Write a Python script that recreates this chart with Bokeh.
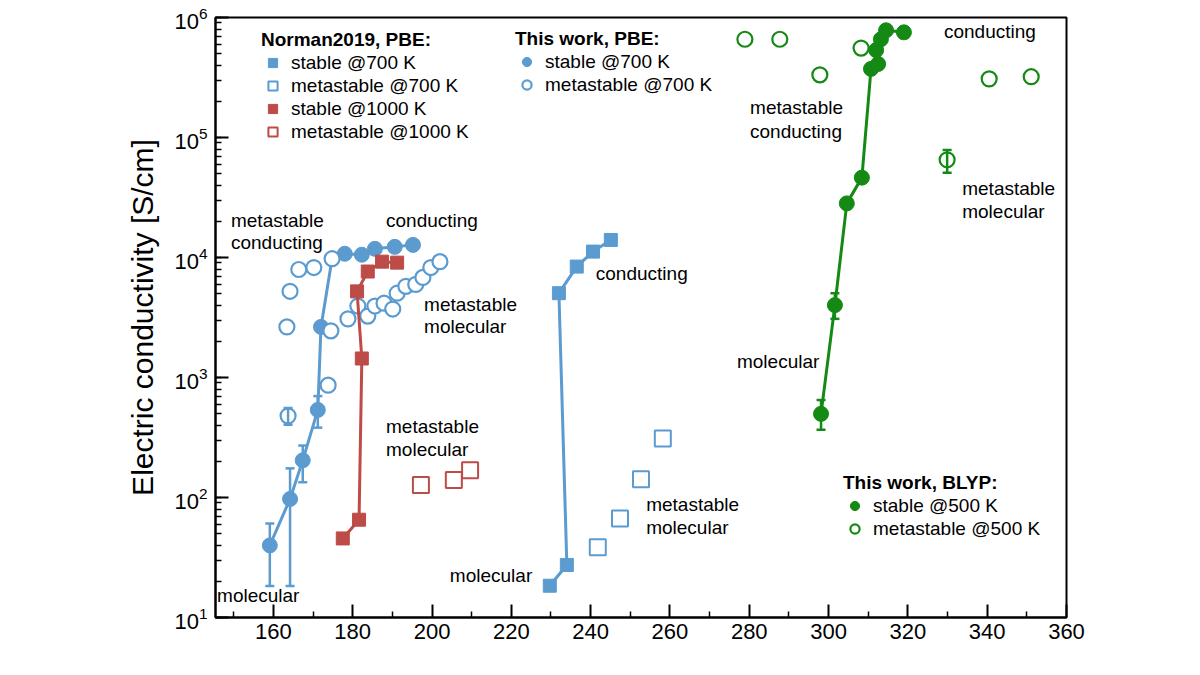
from bokeh.plotting import figure
from bokeh.models import (Range1d, FixedTicker, ColumnDataSource, Whisker, TeeHead,
                          Legend, LegendItem, Label, LogTicker)
from bokeh.core.properties import value
from bokeh.embed import file_html
from bokeh.resources import INLINE

# ---------------- data ----------------
# Norman2019, PBE
norman_s700_p = [229.7, 234.0, 232.0, 236.5, 240.6, 245.1]
norman_s700_s = [18.4, 27.4, 5040, 8400, 11200, 14000]
norman_m700_p = [241.8, 247.4, 252.7, 258.2]
norman_m700_s = [38.5, 66.7, 142, 310]
norman_s1000_p = [177.5, 181.6, 182.3, 181.1, 183.8, 187.4, 191.2]
norman_s1000_s = [45.6, 65.3, 1440, 5220, 7640, 9230, 9060]
norman_m1000_p = [197.2, 205.5, 209.6]
norman_m1000_s = [127, 140, 169]

# This work, PBE @700 K
pbe_s_p = [159.1, 164.2, 167.4, 171.2, 172.0, 174.8, 178.0, 182.3, 185.6, 190.6, 195.2]
pbe_s_s = [39.9, 97.2, 204, 537, 2640, 9800, 10740, 10550, 11810, 12270, 12740]
pbe_s_err_p = [159.1, 164.2, 167.4, 171.2]
pbe_s_err_lo = [18.3, 18.3, 134, 382]
pbe_s_err_hi = [60.7, 175, 271, 700]

pbe_m_p = [163.7, 173.8, 163.4, 164.2, 166.4, 170.2, 174.8, 174.5, 178.8, 181.3, 183.8,
           185.6, 187.9, 190.1, 191.2, 193.4, 195.9, 197.7, 199.7, 202.0]
pbe_m_s = [479, 863, 2640, 5230, 7940, 8250, 9770, 2450, 3080, 3940, 3250,
           3940, 4160, 3720, 5040, 5750, 5970, 6820, 8250, 9230]
pbe_m_err_p = [163.7]
pbe_m_err_lo = [404]
pbe_m_err_hi = [557]

# This work, BLYP @500 K
blyp_s_p = [298.1, 301.6, 304.6, 308.4, 310.7, 312.5, 312.0, 313.2, 314.5, 319.0]
blyp_s_s = [498, 4010, 28250, 46300, 373000, 410000, 535000, 659000, 782000, 752000]
blyp_s_err_p = [298.1, 301.6]
blyp_s_err_lo = [367, 3080]
blyp_s_err_hi = [649, 5040]

blyp_m_p = [278.9, 287.7, 297.8, 308.2, 329.9, 340.5, 351.1]
blyp_m_s = [659000, 659000, 333000, 556000, 65200, 308000, 321000]
blyp_m_err_p = [329.9]
blyp_m_err_lo = [50900]
blyp_m_err_hi = [78700]

# annotations
ann_text = ["metastable", "conducting", "conducting", "metastable", "molecular",
            "metastable", "molecular", "molecular", "conducting", "metastable",
            "molecular", "molecular", "metastable", "conducting", "conducting",
            "metastable", "molecular", "molecular"]
ann_p = [149.3, 149.3, 188.4, 198.0, 198.0,
         188.4, 188.4, 145.8, 241.3, 254.0,
         254.0, 204.5, 280.2, 280.2, 329.1,
         333.7, 333.7, 276.9]
ann_s = [20500, 13250, 20300, 4080, 2640,
         389, 251, 15.2, 7360, 86.9,
         56.2, 22.2, 178000, 113000, 768000,
         37600, 24300, 1358]

x_ticks = [160, 180, 200, 220, 240, 260, 280, 300, 320, 340, 360]
x_minor = [150, 170, 190, 210, 230, 250, 270, 290, 310, 330, 350]

BLUE = "#5b9bd0"
RED = "#bd4b47"
GREEN = "#148a14"
FONT = "Liberation Sans"

p = figure(width=1200, height=675, output_backend="svg", toolbar_location=None,
           y_axis_type="log", x_range=Range1d(145.4, 360), y_range=Range1d(10, 1e6),
           min_border_left=215, min_border_right=134, min_border_top=17,
           min_border_bottom=58)
p.grid.visible = False
p.outline_line_color = "black"
p.outline_line_width = 2
p.background_fill_color = "white"
p.border_fill_color = "white"

p.xaxis.ticker = FixedTicker(ticks=x_ticks, minor_ticks=x_minor)
p.yaxis.ticker = LogTicker(num_minor_ticks=10)
for ax in (p.xaxis, p.yaxis):
    ax.axis_line_width = 2
    ax.axis_line_color = "black"
    ax.major_tick_in = 13
    ax.major_tick_out = 0
    ax.minor_tick_in = 6
    ax.minor_tick_out = 0
    ax.major_tick_line_width = 2
    ax.minor_tick_line_width = 1.5
    ax.major_tick_line_color = "black"
    ax.minor_tick_line_color = "black"
    ax.major_label_text_font = FONT
    ax.major_label_text_font_size = "22px"
    ax.major_label_text_color = "black"
p.xaxis.major_label_standoff = 6
p.yaxis.major_label_standoff = 8
p.yaxis.axis_label = "Electric conductivity [S/cm]"
p.yaxis.axis_label_text_font = FONT
p.yaxis.axis_label_text_font_size = "30px"
p.yaxis.axis_label_text_font_style = "normal"
p.yaxis.axis_label_text_color = "black"
p.yaxis.axis_label_standoff = 12

xl = Label(x=(145.4 + 360) / 2, y=-41, x_units="data", y_units="screen",
           text="Pressure [GPa]", text_font=FONT, text_font_size="30px",
           text_align="center", text_baseline="middle", text_color="black")
p.add_layout(xl)


def whisk(px, lo, hi, color):
    src = ColumnDataSource(dict(x=px, lo=lo, hi=hi))
    w = Whisker(source=src, base="x", lower="lo", upper="hi", dimension="height",
                line_color=color, line_width=2.5,
                upper_head=TeeHead(size=9, line_color=color, line_width=2.5),
                lower_head=TeeHead(size=9, line_color=color, line_width=2.5),
                level="glyph")
    p.add_layout(w)


# This work PBE
whisk(pbe_s_err_p, pbe_s_err_lo, pbe_s_err_hi, BLUE)
whisk(pbe_m_err_p, pbe_m_err_lo, pbe_m_err_hi, BLUE)
p.line(pbe_s_p, pbe_s_s, line_color=BLUE, line_width=3)
r_pbe_s = p.scatter(pbe_s_p, pbe_s_s, marker="circle", size=15, fill_color=BLUE,
                    line_color=BLUE)
r_pbe_m = p.scatter(pbe_m_p, pbe_m_s, marker="circle", size=15, fill_color="white",
                    line_color=BLUE, line_width=2.2)

# Norman 1000 K
p.line(norman_s1000_p, norman_s1000_s, line_color=RED, line_width=3)
r_n_s1000 = p.scatter(norman_s1000_p, norman_s1000_s, marker="square", size=13,
                      fill_color=RED, line_color=RED)
r_n_m1000 = p.scatter(norman_m1000_p, norman_m1000_s, marker="square", size=16,
                      fill_color="white", line_color=RED, line_width=2)

# Norman 700 K
p.line(norman_s700_p, norman_s700_s, line_color=BLUE, line_width=3)
r_n_s700 = p.scatter(norman_s700_p, norman_s700_s, marker="square", size=13,
                     fill_color=BLUE, line_color=BLUE)
r_n_m700 = p.scatter(norman_m700_p, norman_m700_s, marker="square", size=16,
                     fill_color="white", line_color=BLUE, line_width=2)

# BLYP
whisk(blyp_s_err_p, blyp_s_err_lo, blyp_s_err_hi, GREEN)
whisk(blyp_m_err_p, blyp_m_err_lo, blyp_m_err_hi, GREEN)
p.line(blyp_s_p, blyp_s_s, line_color=GREEN, line_width=3)
r_b_s = p.scatter(blyp_s_p, blyp_s_s, marker="circle", size=15, fill_color=GREEN,
                  line_color=GREEN)
r_b_m = p.scatter(blyp_m_p, blyp_m_s, marker="circle", size=15, fill_color="white",
                  line_color=GREEN, line_width=2.2)

# annotations
ann_src = ColumnDataSource(dict(x=ann_p, y=ann_s, t=ann_text))
p.text(x="x", y="y", text="t", source=ann_src, text_font=value(FONT),
       text_font_size="19px", text_align="left", text_baseline="middle",
       text_color="black")


def make_legend(title, items, loc):
    lg = Legend(items=items, location=loc, title=title,
                title_text_font=FONT, title_text_font_size="19px",
                title_text_font_style="bold", title_text_color="black",
                title_standoff=0,
                label_text_font=FONT, label_text_font_size="19px",
                label_text_color="black",
                glyph_width=23, glyph_height=23, label_height=23, spacing=0,
                label_standoff=7, padding=0, margin=0,
                border_line_alpha=0, background_fill_alpha=0)
    p.add_layout(lg)


make_legend("Norman2019, PBE:", [
    LegendItem(label="stable @700 K", renderers=[r_n_s700]),
    LegendItem(label="metastable @700 K", renderers=[r_n_m700]),
    LegendItem(label="stable @1000 K", renderers=[r_n_s1000]),
    LegendItem(label="metastable @1000 K", renderers=[r_n_m1000]),
], (46, 474))
make_legend("This work, PBE:", [
    LegendItem(label="stable @700 K", renderers=[r_pbe_s]),
    LegendItem(label="metastable @700 K", renderers=[r_pbe_m]),
], (300, 521))
make_legend("This work, BLYP:", [
    LegendItem(label="stable @500 K", renderers=[r_b_s]),
    LegendItem(label="metastable @500 K", renderers=[r_b_m]),
], (628, 77))

open("out.html", "w").write(file_html(p, INLINE))
